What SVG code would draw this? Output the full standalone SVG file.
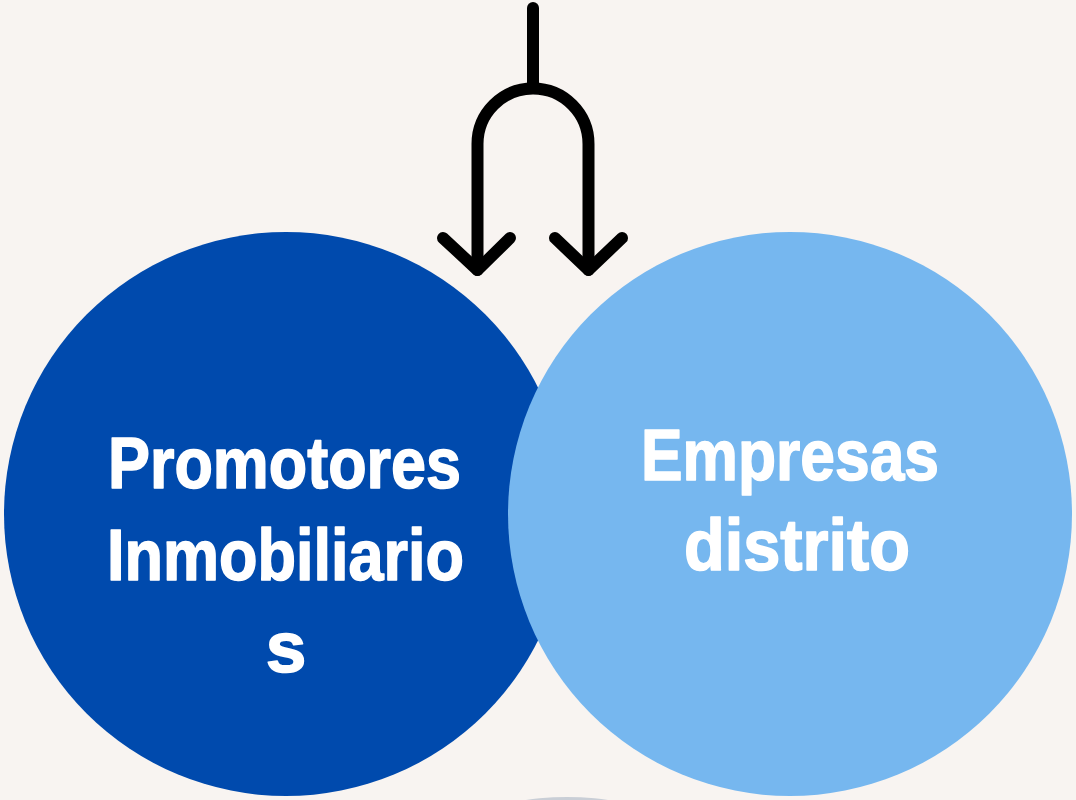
<svg xmlns="http://www.w3.org/2000/svg" width="1076" height="800" viewBox="0 0 1076 800">
<style>
.lbl{font-family:"Liberation Sans Narrow","Liberation Sans",Arial,sans-serif;font-weight:bold;font-size:73px;fill:#ffffff;stroke:#ffffff;stroke-width:1.6;stroke-linejoin:round;}
.ln{fill:none;stroke:#000000;stroke-width:12;stroke-linecap:round;stroke-linejoin:round;}
</style>
<rect width="1076" height="800" fill="#f8f4f1"/>
<circle cx="567" cy="1079" r="282" fill="#c9ced6"/>
<g id="node-promotores">
<circle cx="286" cy="514" r="282" fill="#004aad"/>
<text class="lbl" x="108" y="488" textLength="353" lengthAdjust="spacingAndGlyphs">Promotores</text>
<text class="lbl" x="107" y="580" textLength="357" lengthAdjust="spacingAndGlyphs">Inmobiliario</text>
<text class="lbl" x="286" y="672" text-anchor="middle">s</text>
</g>
<g id="node-empresas">
<circle cx="790" cy="514" r="282" fill="#76b7ef"/>
<text class="lbl" x="641" y="480" textLength="298" lengthAdjust="spacingAndGlyphs">Empresas</text>
<text class="lbl" x="684" y="570" textLength="226" lengthAdjust="spacingAndGlyphs">distrito</text>
</g>
<g id="connectors">
<path class="ln" d="M533 8 V88"/>
<path class="ln" d="M477.5 270 V144 A55.5 55.5 0 0 1 588.5 144 V270"/>
<path class="ln" d="M443 238 L477.5 270 L510 238"/>
<path class="ln" d="M555 238 L588.5 270 L622 238"/>
</g>
</svg>
